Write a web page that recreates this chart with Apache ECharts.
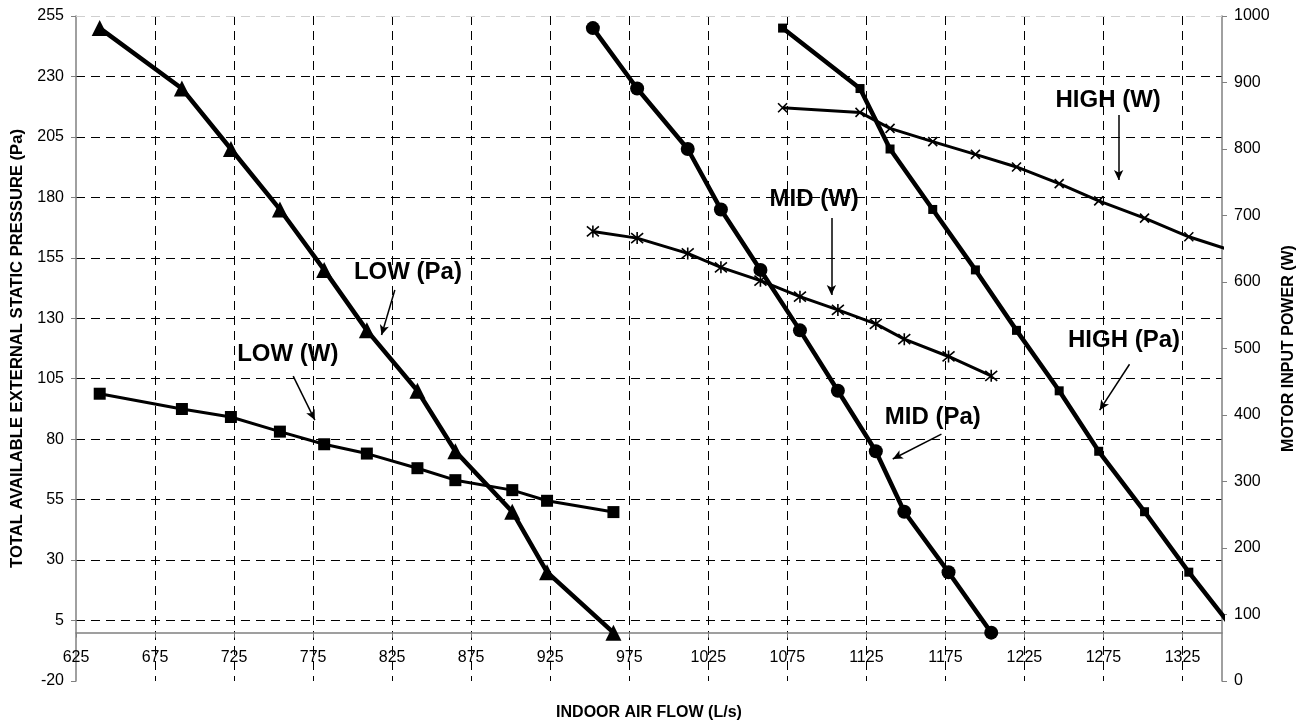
<!DOCTYPE html>
<html lang="en">
<head>
    <meta charset="UTF-8">
    <title>Fan curves</title>
    <script src="https://cdn.jsdelivr.net/npm/echarts@6/dist/echarts.min.js"></script>
    <style>
        html, body {
            margin: 0;
            border: 0;
            background: #fff;
        }

        #chart {
            width: 1302px;
            height: 722px;
        }
    </style>
</head>
<body>
<div id="chart"></div>
<script type="text/javascript">
    // static pressure steps shared by all three speeds (Pa)
    const pressure = [250, 225, 200, 175, 150, 125, 100, 75, 50, 25, 0];

    const flowLow = [640, 692, 723, 754, 782, 809, 841, 865, 901, 923, 965];
    const powerLow = [432, 409, 397, 375, 356, 342, 320, 302, 287, 271, 254];

    const flowMid = [952, 980, 1012, 1033, 1058, 1083, 1107, 1131, 1149, 1177, 1204];
    const powerMid = [676, 666, 643, 622, 602, 578, 558, 537, 514, 488, 459];

    const flowHigh = [1072, 1121, 1140, 1167, 1194, 1220, 1247, 1272, 1301, 1329, 1359];
    const powerHigh = [862, 855, 831, 811, 792, 773, 748, 722, 696, 668, 645];

    // callouts: [flow, pressure, text]
    const callouts = [
        [835, 149, 'LOW (Pa)'],
        [759, 115, 'LOW (W)'],
        [1092, 179, 'MID (W)'],
        [1167, 89, 'MID (Pa)'],
        [1278, 220, 'HIGH (W)'],
        [1288, 121, 'HIGH (Pa)']
    ];
    // arrows: [fromFlow, fromPa, toFlow, toPa]
    const arrows = [
        [826.7, 141.7, 818.3, 123.1],
        [762.4, 106.1, 776.1, 87.9],
        [1102.9, 171.5, 1102.9, 139.6],
        [1172.5, 82.1, 1141.7, 71.8],
        [1284.6, 214.1, 1284.6, 187.2],
        [1291.5, 111, 1272.6, 92]
    ];

    const FONT = '"Liberation Sans", Arial, sans-serif';
    const xMark = 'path://M0,0L10,10M10,0L0,10';
    const starMark = 'path://M0,0L10,10M10,0L0,10M5,-1L5,11';

    const zip = (xs, ys) => xs.map((x, i) => [x, ys[i]]);
    const plain = v => String(v);

    function curve(name, xs, ys, axis, symbol, size, width, stroked) {
        return {
            name: name,
            type: 'line',
            yAxisIndex: axis,
            data: zip(xs, ys),
            symbol: symbol,
            symbolSize: size,
            showAllSymbol: true,
            clip: true,
            lineStyle: {color: '#000', width: width},
            itemStyle: stroked
                ? {color: 'rgba(0,0,0,0)', borderColor: '#000', borderWidth: 1.6}
                : {color: '#000', borderWidth: 0},
            z: 3
        };
    }

    const nameStyle = {fontFamily: FONT, fontWeight: 'bold', fontSize: 16, color: '#000'};
    const tickStyle = {fontFamily: FONT, fontSize: 16, color: '#000', formatter: plain};
    const gridDash = {color: '#000', width: 1, type: [9, 6]};
    const axisGrey = {color: '#808080', width: 1.5};

    const chart = echarts.init(document.getElementById('chart'));
    const option = {
        animation: false,
        textStyle: {fontFamily: FONT},
        grid: {left: 76, right: 80, top: 16, bottom: 41, outerBoundsMode: 'none', containLabel: false},
        xAxis: {
            type: 'value',
            min: 625,
            max: 1350,
            interval: 50,
            // the axis crosses the left scale at 0 Pa, 20 Pa above the plot bottom
            offset: -48.4,
            name: 'INDOOR AIR FLOW (L/s)',
            nameLocation: 'middle',
            nameGap: 72,
            nameTextStyle: nameStyle,
            axisLine: {onZero: false, lineStyle: axisGrey},
            axisTick: {show: true, length: 5, lineStyle: {color: '#808080'}},
            axisLabel: Object.assign({margin: 17, showMaxLabel: false}, tickStyle),
            splitLine: {show: true, showMinLine: false, showMaxLine: false, lineStyle: gridDash}
        },
        yAxis: [{
            type: 'value',
            min: -20,
            max: 255,
            interval: 25,
            name: 'TOTAL AVAILABLE EXTERNAL STATIC PRESSURE (Pa)',
            nameLocation: 'middle',
            nameRotate: 90,
            nameGap: 48,
            nameTextStyle: Object.assign({}, nameStyle, {fontSize: 16.6}),
            axisLine: {show: true, lineStyle: axisGrey},
            axisTick: {show: true, length: 5, lineStyle: {color: '#808080'}},
            axisLabel: Object.assign({margin: 12}, tickStyle),
            splitLine: {show: true, showMinLine: false, showMaxLine: false, lineStyle: gridDash}
        }, {
            type: 'value',
            min: 0,
            max: 1000,
            interval: 100,
            position: 'right',
            name: 'MOTOR INPUT POWER (W)',
            nameLocation: 'middle',
            nameRotate: 90,
            nameGap: 56,
            nameTextStyle: nameStyle,
            axisLine: {show: true, lineStyle: axisGrey},
            axisTick: {show: true, length: 5, lineStyle: {color: '#808080'}},
            axisLabel: Object.assign({margin: 12}, tickStyle),
            splitLine: {show: false}
        }],
        series: [
            curve('LOW (Pa)', flowLow, pressure, 0, 'triangle', 16, 4.5, false),
            curve('LOW (W)', flowLow, powerLow, 1, 'rect', 12, 3, false),
            curve('MID (Pa)', flowMid, pressure, 0, 'circle', 14, 4.5, false),
            curve('MID (W)', flowMid, powerMid, 1, starMark, 12, 3, true),
            curve('HIGH (Pa)', flowHigh, pressure, 0, 'rect', 9, 4.5, false),
            curve('HIGH (W)', flowHigh, powerHigh, 1, xMark, 9, 3, true),
            {
                name: 'callouts',
                type: 'scatter',
                yAxisIndex: 0,
                symbolSize: 0,
                data: callouts,
                z: 5,
                itemStyle: {opacity: 1},
                label: {
                    show: true,
                    position: 'inside',
                    formatter: p => p.value[2],
                    fontFamily: FONT,
                    fontWeight: 'bold',
                    fontSize: 24,
                    color: '#000',
                    opacity: 1,
                    textBorderWidth: 0
                },
                markLine: {
                    silent: true,
                    symbol: ['none', 'arrow'],
                    symbolSize: [7, 10],
                    label: {show: false},
                    lineStyle: {color: '#000', width: 1.5, type: 'solid'},
                    data: arrows.map(a => [{coord: [a[0], a[1]]}, {coord: [a[2], a[3]]}])
                        .concat([[
                            {coord: [625, 255], symbol: 'none', lineStyle: {color: '#cfcfcf', width: 1, type: [9, 6]}},
                            {coord: [1350, 255], symbol: 'none'}
                        ]])
                }
            }
        ]
    };
    chart.setOption(option);
</script>
</body>
</html>
